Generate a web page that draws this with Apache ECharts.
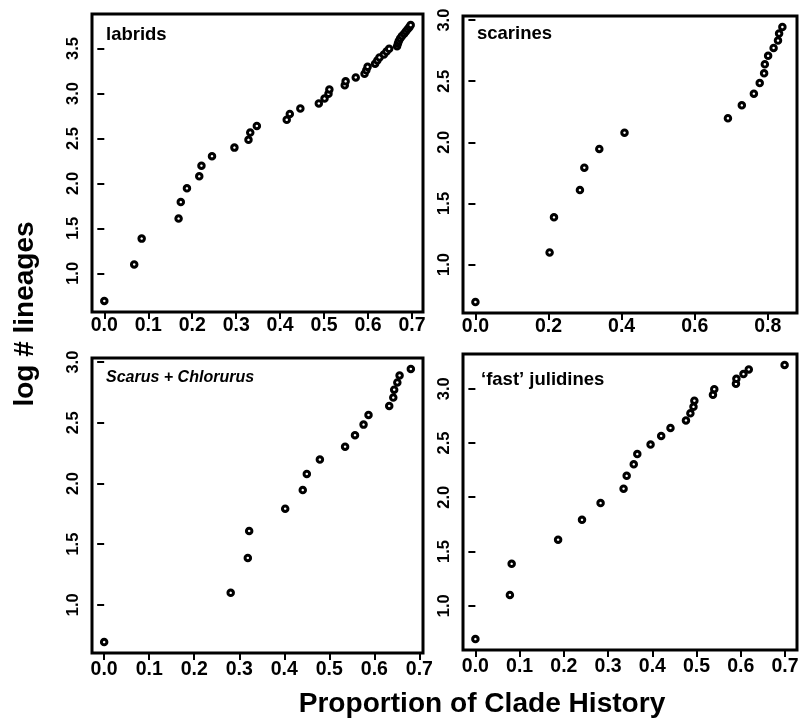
<!DOCTYPE html>
<html><head><meta charset="utf-8">
<script src="https://cdn.jsdelivr.net/npm/echarts@6/dist/echarts.min.js"></script>
<style>html,body{margin:0;padding:0;background:#fff}#c{width:805px;height:723px}</style>
</head><body><div id="c"></div>
<script>
// ---- data ----
const labridsX = [0.000,0.068,0.085,0.169,0.174,0.188,0.216,0.221,0.245,0.296,0.328,0.332,0.347,0.415,0.422,0.446,0.488,0.501,0.510,0.512,0.547,0.549,0.572,0.592,0.596,0.599,0.616,0.621,0.626,0.636,0.642,0.648,0.666,0.668,0.670,0.673,0.677,0.682,0.686,0.690,0.694,0.697];
const labridsY = [0.693,1.099,1.386,1.609,1.792,1.946,2.079,2.197,2.303,2.398,2.485,2.565,2.639,2.708,2.773,2.833,2.890,2.944,2.996,3.045,3.091,3.135,3.178,3.219,3.258,3.296,3.332,3.367,3.401,3.434,3.466,3.497,3.526,3.555,3.584,3.611,3.638,3.664,3.689,3.714,3.738,3.761];
const scarinesX = [0.000,0.203,0.215,0.286,0.298,0.339,0.408,0.691,0.729,0.762,0.778,0.790,0.792,0.801,0.816,0.828,0.831,0.840];
const scarinesY = [0.693,1.099,1.386,1.609,1.792,1.946,2.079,2.197,2.303,2.398,2.485,2.565,2.639,2.708,2.773,2.833,2.890,2.944];
const scarusX = [0.000,0.281,0.319,0.322,0.402,0.441,0.450,0.479,0.535,0.557,0.576,0.587,0.633,0.642,0.644,0.651,0.656,0.681];
const scarusY = [0.693,1.099,1.386,1.609,1.792,1.946,2.079,2.197,2.303,2.398,2.485,2.565,2.639,2.708,2.773,2.833,2.890,2.944];
const julidinesX = [0.000,0.078,0.082,0.187,0.241,0.283,0.335,0.342,0.358,0.366,0.396,0.420,0.441,0.476,0.486,0.493,0.495,0.537,0.540,0.589,0.590,0.606,0.618,0.699];
const julidinesY = [0.693,1.099,1.386,1.609,1.792,1.946,2.079,2.197,2.303,2.398,2.485,2.565,2.639,2.708,2.773,2.833,2.890,2.944,2.996,3.045,3.091,3.135,3.178,3.219];

const panelTitles = ['labrids', 'scarines', 'Scarus + Chlorurus', '\u2018fast\u2019 julidines'];
const xTicks7 = [0, 0.1, 0.2, 0.3, 0.4, 0.5, 0.6, 0.7];
const xTicks8 = [0, 0.2, 0.4, 0.6, 0.8];
const yTicksLabrids = [1.0, 1.5, 2.0, 2.5, 3.0, 3.5];
const yTicks3 = [1.0, 1.5, 2.0, 2.5, 3.0];
const xAxisTitle = 'Proportion of Clade History';
const yAxisTitle = 'log # lineages';

const F = '"Liberation Sans", Arial, sans-serif';

const panels = [
  {x: labridsX, y: labridsY, grid: {left: 92, top: 14, width: 331, height: 298}, xr: [-0.028, 0.725], yr: [0.570, 3.884], xt: xTicks7, yt: yTicksLabrids, xm: 4},
  {x: scarinesX, y: scarinesY, grid: {left: 463, top: 16, width: 334, height: 297}, xr: [-0.034, 0.880], yr: [0.603, 3.034], xt: xTicks8, yt: yTicks3, xm: 4},
  {x: scarusX, y: scarusY, grid: {left: 92, top: 358, width: 331, height: 295}, xr: [-0.027, 0.708], yr: [0.603, 3.034], xt: xTicks7, yt: yTicks3, xm: 7},
  {x: julidinesX, y: julidinesY, grid: {left: 463, top: 354, width: 334, height: 296}, xr: [-0.028, 0.727], yr: [0.592, 3.320], xt: xTicks7, yt: yTicks3, xm: 7}
];

const grid = [], xAxis = [], yAxis = [], series = [];
panels.forEach((p, i) => {
  grid.push(Object.assign({show: true, borderColor: '#000', borderWidth: 3, backgroundColor: 'transparent'}, p.grid));
  xAxis.push({
    type: 'value', gridIndex: i, min: p.xr[0], max: p.xr[1],
    axisLine: {show: false}, splitLine: {show: false},
    axisTick: {show: true, length: 7, lineStyle: {color: '#000', width: 2}, customValues: p.xt},
    axisLabel: {customValues: p.xt, formatter: v => v.toFixed(1), margin: p.xm, color: '#000', fontFamily: F, fontWeight: 'bold', fontSize: 19.5}
  });
  yAxis.push({
    type: 'value', gridIndex: i, min: p.yr[0], max: p.yr[1],
    axisLine: {show: false}, splitLine: {show: false},
    axisTick: {show: true, length: 7, lineStyle: {color: '#000', width: 2}, customValues: p.yt},
    axisLabel: {customValues: p.yt, formatter: v => v.toFixed(1), rotate: 90, margin: 10, color: '#000', fontFamily: F, fontWeight: 'bold', fontSize: 16.5}
  });
  series.push({
    type: 'scatter', xAxisIndex: i, yAxisIndex: i,
    data: p.x.map((v, k) => [v, p.y[k]]),
    symbol: 'circle', symbolSize: 5.5,
    itemStyle: {color: '#fff', borderColor: '#000', borderWidth: 3, opacity: 1},
    emphasis: {disabled: true}, animation: false
  });
});

const title = [
  {text: panelTitles[0], left: 106, top: 25, textStyle: {fontFamily: F, fontWeight: 'bold', fontSize: 18.5, color: '#000'}, padding: 0},
  {text: panelTitles[1], left: 477, top: 24, textStyle: {fontFamily: F, fontWeight: 'bold', fontSize: 18.5, color: '#000'}, padding: 0},
  {text: panelTitles[2], left: 106, top: 370, textStyle: {fontFamily: F, fontWeight: 'bold', fontStyle: 'italic', fontSize: 16, color: '#000'}, padding: 0},
  {text: panelTitles[3], left: 481, top: 370, textStyle: {fontFamily: F, fontWeight: 'bold', fontSize: 18.5, color: '#000'}, padding: 0}
];

const chart = echarts.init(document.getElementById('c'), null, {renderer: 'canvas'});
chart.setOption({
  animation: false,
  backgroundColor: '#fff',
  title, grid, xAxis, yAxis, series,
  graphic: [
    {type: 'text', x: 482, y: 705, scaleX: 1.04, style: {text: xAxisTitle, font: 'bold 27px ' + F, fill: '#000', align: 'center', verticalAlign: 'middle'}},
    {type: 'text', x: 25, y: 314, rotation: Math.PI / 2, style: {text: yAxisTitle, font: 'bold 28px ' + F, fill: '#000', align: 'center', verticalAlign: 'middle'}}
  ]
});
</script>
</body></html>
